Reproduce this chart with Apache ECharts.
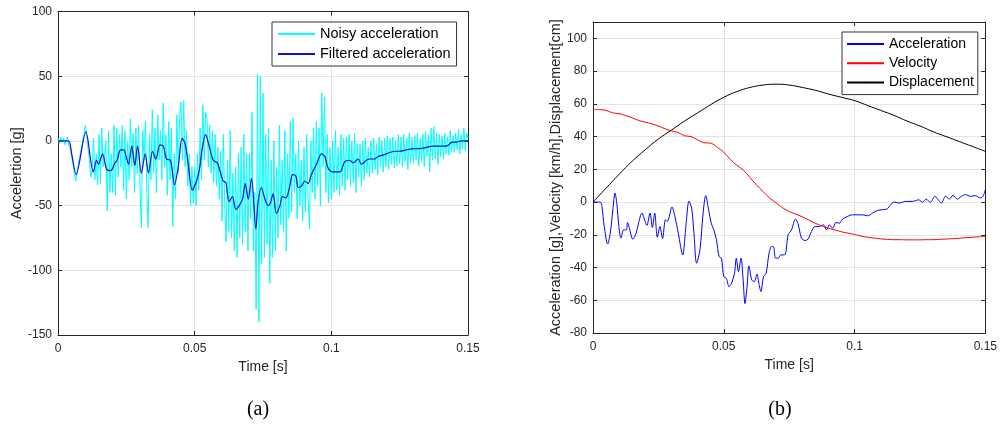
<!DOCTYPE html>
<html>
<head>
<meta charset="utf-8">
<script src="https://cdn.jsdelivr.net/npm/echarts@6/dist/echarts.min.js"></script>
<style>
html,body{margin:0;padding:0;background:#fff;}
#chart{width:1000px;height:425px;}
</style>
</head>
<body>
<div id="chart"></div>
<script>
// ---------- (a) noisy / filtered acceleration ----------
const noisyStep = 0.0005; // s between samples
const noisyAccel = [
 2,-2,3,-1,2,-3,1,3,-4,-6,
 -12,-18,-25,-31,-24,-17,-12,-6,0,5,
 12,4,-6,-15,-28,-22,2,-30,-10,-34,
 5,-33,10,-20,-12,0,-54,8,-40,-10,
 -40,12,-42,10,-28,5,-20,12,-38,8,
 -45,0,-30,17,-20,6,-40,10,-25,12,
 -35,-67,8,-15,15,-40,-67,5,-30,24,
 -25,10,-40,20,-15,8,-30,29,-20,5,
 -42,15,-30,10,-66,-10,-45,20,-25,18,
 30,-15,31,-20,8,-35,-10,-50,-20,-48,
 -20,-50,-10,-38,10,-30,28,-15,22,18,
 -20,12,-25,8,-32,5,-35,-5,-45,-8,
 -62,5,-50,-78,-15,-70,8,-75,-25,-85,
 -20,-90,-10,-75,-5,-80,5,-70,-10,-85,
 -10,-60,22,-85,-40,-130,52,-140,50,-95,
 37,-90,5,-80,10,-110,-15,-90,0,-85,
 -20,-75,12,-65,-15,-70,8,-85,-10,-60,
 15,-55,18,-40,-10,-60,0,-50,-15,-62,
 -5,-55,5,-45,-68,0,-40,10,-45,15,
 -35,10,-50,37,-20,34,-40,5,-48,-5,
 -45,0,-40,8,-38,-5,-42,5,-35,2,
 -38,3,-30,5,-35,0,-32,6,-40,-2,
 -28,-2,-35,0,-30,2,-25,-5,-28,0,
 -25,2,-22,-2,-26,3,-20,0,-24,2,
 -20,4,-22,2,-18,3,-21,0,-19,5,
 -18,3,-20,5,-16,2,-22,6,-17,3,
 -17,4,-15,6,-19,2,-16,5,-20,7,
 -12,5,-24,10,-15,11,-14,6,-18,5,
 -12,4,-14,6,-10,3,-11,8,-9,4,
 -9,6,-7,9,-10,5,-6,10,-8,6,
 2
];

const filtT = [0,0.0038,0.005,0.0066,0.0102,0.0129,0.0141,0.0148,0.0163,0.0178,0.0193,0.0208,0.0216,0.0229,0.0241,0.0249,0.0258,0.027,0.0281,0.0291,0.0305,0.0319,0.0331,0.0346,0.0358,0.0373,0.0385,0.0397,0.0412,0.0426,0.044,0.0454,0.0465,0.0476,0.0491,0.0507,0.0519,0.0526,0.054,0.0553,0.0568,0.0583,0.0595,0.0604,0.0614,0.0626,0.0638,0.0651,0.0663,0.0675,0.0685,0.0696,0.0708,0.0724,0.0732,0.0744,0.0757,0.0769,0.0777,0.0787,0.0799,0.0812,0.0821,0.0834,0.0848,0.0858,0.0870,0.0879,0.0891,0.0903,0.0915,0.0927,0.0946,0.0964,0.0976,0.0988,0.1006,0.1031,0.1049,0.1067,0.1080,0.1098,0.1110,0.1128,0.1140,0.1158,0.1171,0.1189,0.1214,0.1232,0.1250,0.1275,0.1299,0.1324,0.1348,0.1372,0.1397,0.1421,0.1443,0.1457,0.1476,0.15];
const filtV = [0,0,-10,-26,7,-24,-15,-18,-10,-22,-23,-17,-15,-7,-7,-12,-18,-4,-19,-4,-25,-10,-25,-8,-14,-3,-4,-14,-15,-34,-20,2,-2,-17,-38,-31,-20,-8,5,-4,-15,-17,-25,-31,-32,-47,-43,-53,-50,-45,-33,-45,-29,-68,-47,-36,-45,-50,-48,-41,-56,-50,-43,-44,-35,-26,-27,-36,-35,-31,-33,-26,-18,-10,-12,-21,-24,-24,-16,-15,-17,-14,-18,-15,-14,-14,-12,-11,-9,-8,-8,-7,-6,-6,-5,-4,-4,-4,-1,-1,0,0];

// ---------- (b) acceleration / velocity / displacement ----------
const accT = [0,0.0028,0.0034,0.0043,0.0056,0.0066,0.0076,0.0084,0.0091,0.0099,0.0107,0.0117,0.0127,0.0132,0.014,0.0152,0.0165,0.0174,0.0187,0.0195,0.0206,0.0218,0.0227,0.0236,0.0246,0.0256,0.0266,0.0277,0.0284,0.029,0.0302,0.0313,0.0326,0.0343,0.0355,0.0367,0.0377,0.0386,0.0396,0.0409,0.0421,0.0431,0.0442,0.0452,0.0462,0.0472,0.0482,0.0491,0.05,0.051,0.052,0.053,0.0541,0.0548,0.0556,0.0566,0.0574,0.0581,0.0589,0.0596,0.0607,0.0617,0.0627,0.0634,0.0642,0.0652,0.0662,0.0673,0.0683,0.069,0.0698,0.0708,0.0718,0.0733,0.0746,0.0759,0.0774,0.0784,0.0797,0.081,0.0822,0.0835,0.0848,0.0865,0.0881,0.0893,0.0904,0.0916,0.0929,0.0942,0.0954,0.0973,0.0992,0.1011,0.103,0.105,0.1069,0.1088,0.1107,0.1126,0.1138,0.1151,0.117,0.1195,0.1221,0.1246,0.1259,0.1274,0.129,0.1307,0.132,0.1332,0.1348,0.1363,0.1376,0.1393,0.1409,0.1424,0.1443,0.1462,0.1481,0.1491,0.15];
const accV = [0,0,-2.7,-15,-25.7,-19,-4.7,5.5,-0.6,-15,-22,-17,-17,-12.5,-16.5,-22.7,-19,-12.9,-6.7,-9.8,-14.3,-6.7,-15.5,-6.7,-21.5,-15,-22.3,-10.8,-11.8,-9.8,-3,-8.8,-19,-32.3,-15,0.6,-3.7,-19,-37.4,-29,-6.7,3.9,-4.7,-12.9,-17,-23,-33.3,-34.3,-45.6,-46.6,-51.7,-49.6,-43.5,-34.3,-42.5,-34.3,-47.6,-62,-51.7,-39,-47.6,-48.6,-44,-49.6,-54.7,-45.6,-43.5,-31.3,-27.2,-27.2,-34.3,-34.3,-32.3,-32.3,-20,-17,-10.4,-13.3,-22,-23.5,-22.7,-18,-15,-15,-13.9,-17,-13.9,-16,-12.5,-12.9,-10.4,-8.8,-7.8,-7.8,-7.8,-8.4,-6.7,-5.1,-4.7,-4.1,-1.6,0,-0.6,0.4,0.4,1.4,-0.2,1.8,-0.2,3.5,1.4,-0.6,3.5,1.8,4.1,1.8,3.5,4.5,3.5,3.9,2.5,3.5,7.6];

const velT = [0,0.0025,0.005,0.0075,0.01,0.0125,0.015,0.0175,0.02,0.0225,0.025,0.0275,0.03,0.0325,0.035,0.0375,0.04,0.0425,0.045,0.0475,0.05,0.0525,0.055,0.0575,0.06,0.0625,0.065,0.0675,0.07,0.0725,0.075,0.0775,0.08,0.0825,0.085,0.0875,0.09,0.0925,0.095,0.0975,0.1,0.1025,0.105,0.1075,0.11,0.1125,0.115,0.1175,0.12,0.1225,0.125,0.1275,0.13,0.1325,0.135,0.1375,0.14,0.1425,0.145,0.1475,0.15];
const velV = [56.5,56.5,56,54.5,54,52.8,51.5,49.8,48.8,47.8,46.5,44.8,43.5,42.5,40.5,40,38,36.2,36,33.5,30.5,26,22.5,19.5,15,10.5,6.5,2.5,-0.5,-3.5,-5.8,-7.3,-9,-11,-13,-14.5,-16,-17,-18.2,-19,-19.8,-20.8,-21.5,-22,-22.5,-22.8,-23,-23,-23.1,-23.1,-23.1,-23,-23,-22.8,-22.6,-22.4,-22.1,-21.8,-21.5,-21.2,-21];

const dispT = [0,0.005,0.01,0.015,0.02,0.025,0.03,0.035,0.04,0.045,0.05,0.055,0.06,0.065,0.07,0.075,0.08,0.085,0.09,0.095,0.1,0.105,0.11,0.115,0.12,0.125,0.13,0.135,0.14,0.145,0.15];
const dispV = [0,8.5,17,25,32,38.5,44,49.5,54.5,59.5,64,67.5,70,71.5,72,71.5,70,68.3,66,64,62,59,56,53,49.5,46.5,43,40,37,34,31];

function pairs(t, v){ return t.map((x,i)=>[x, v[i]]); }
const noisyData = noisyAccel.map((v,i)=>[+(i*noisyStep).toFixed(4), v]);

const FONT = 'Liberation Sans, Arial, sans-serif';
const AX = '#262626';
const GRIDC = '#e4e4e4';

function xAx(g, pos, main, gap){
  return {
    type:'value', gridIndex:g, position:pos, min:0, max:0.15, interval:0.05,
    name: main ? 'Time [s]' : '', nameLocation:'middle', nameGap:gap||0,
    nameTextStyle:{fontFamily:FONT,fontSize:14,color:AX},
    axisLine:{show:true,onZero:false,lineStyle:{color:AX,width:1}},
    axisTick:{show:true,inside:true,length:4,lineStyle:{color:AX}},
    axisLabel:{show:main,fontFamily:FONT,fontSize:12,color:AX,margin:8,
      formatter:v=>{ const r=Math.round(v*100)/100; return String(r);} },
    splitLine:{show:main,lineStyle:{color:GRIDC,width:1}}
  };
}
function yAx(g, pos, main, min, max, interval, name, gap){
  return {
    type:'value', gridIndex:g, position:pos, min:min, max:max, interval:interval,
    name: main ? name : '', nameLocation:'middle', nameGap:gap,
    nameTextStyle:{fontFamily:FONT,fontSize:14.5,color:AX},
    axisLine:{show:true,onZero:false,lineStyle:{color:AX,width:1}},
    axisTick:{show:true,inside:true,length:4,lineStyle:{color:AX}},
    axisLabel:{show:main,fontFamily:FONT,fontSize:12,color:AX,margin:6,showMaxLabel: max%interval===0},
    splitLine:{show:main,lineStyle:{color:GRIDC,width:1}}
  };
}

const chart = echarts.init(document.getElementById('chart'), null, {renderer:'canvas'});
chart.setOption({
  animation:false,
  backgroundColor:'#fff',
  title:[
    {text:'(a)', left:253, top:395, textAlign:'center', textStyle:{fontFamily:'Liberation Serif, Times New Roman, serif',fontSize:20,fontWeight:'normal',color:'#000'}},
    {text:'(b)', left:775, top:395, textAlign:'center', textStyle:{fontFamily:'Liberation Serif, Times New Roman, serif',fontSize:20,fontWeight:'normal',color:'#000'}}
  ],
  grid:[
    {left:58, right:532, top:11.5, bottom:90},
    {left:593, right:13, top:22, bottom:92}
  ],
  legend:[
    {data:['Noisy acceleration','Filtered acceleration'], orient:'vertical', left:272, top:22,
     itemWidth:37, itemHeight:2, itemGap:4, padding:[4,6,4,5], borderColor:'#333', borderWidth:1, backgroundColor:'#fff',
     textStyle:{fontFamily:FONT,fontSize:14.5,color:'#000',lineHeight:16}},
    {data:['Acceleration','Velocity','Displacement'], orient:'vertical', left:842, top:32,
     itemWidth:37, itemHeight:2, itemGap:3.3, padding:[4,4,4,4], borderColor:'#333', borderWidth:1, backgroundColor:'#fff',
     textStyle:{fontFamily:FONT,fontSize:14,color:'#000',lineHeight:16}}
  ],
  xAxis:[ xAx(0,'bottom',true,25), xAx(0,'top',false), xAx(1,'bottom',true,23), xAx(1,'top',false) ],
  yAxis:[
    yAx(0,'left',true,-150,100,50,'Accelertion [g]',34),
    yAx(0,'right',false,-150,100,50,'',0),
    yAx(1,'left',true,-80,110,20,'Acceleration [g],Velocity [km/h],Displacement[cm]',27),
    yAx(1,'right',false,-80,110,20,'',0)
  ],
  series:[
    {name:'Noisy acceleration', type:'line', xAxisIndex:0, yAxisIndex:0, data:noisyData, symbol:'none',
     lineStyle:{color:'#00ffff',width:1}, itemStyle:{color:'#00ffff'}},
    {name:'Filtered acceleration', type:'line', xAxisIndex:0, yAxisIndex:0, data:pairs(filtT,filtV), symbol:'none', smooth:0.3,
     lineStyle:{color:'#1010d0',width:1.2}, itemStyle:{color:'#1010d0'}},
    {name:'Acceleration', type:'line', xAxisIndex:2, yAxisIndex:2, data:pairs(accT,accV), symbol:'none', smooth:0.3,
     lineStyle:{color:'#0000ff',width:1}, itemStyle:{color:'#0000ff'}},
    {name:'Velocity', type:'line', xAxisIndex:2, yAxisIndex:2, data:pairs(velT,velV), symbol:'none', smooth:0.3,
     lineStyle:{color:'#ff0000',width:1}, itemStyle:{color:'#ff0000'}},
    {name:'Displacement', type:'line', xAxisIndex:2, yAxisIndex:2, data:pairs(dispT,dispV), symbol:'none', smooth:0.4,
     lineStyle:{color:'#000000',width:1}, itemStyle:{color:'#000000'}}
  ]
});
</script>
</body>
</html>
